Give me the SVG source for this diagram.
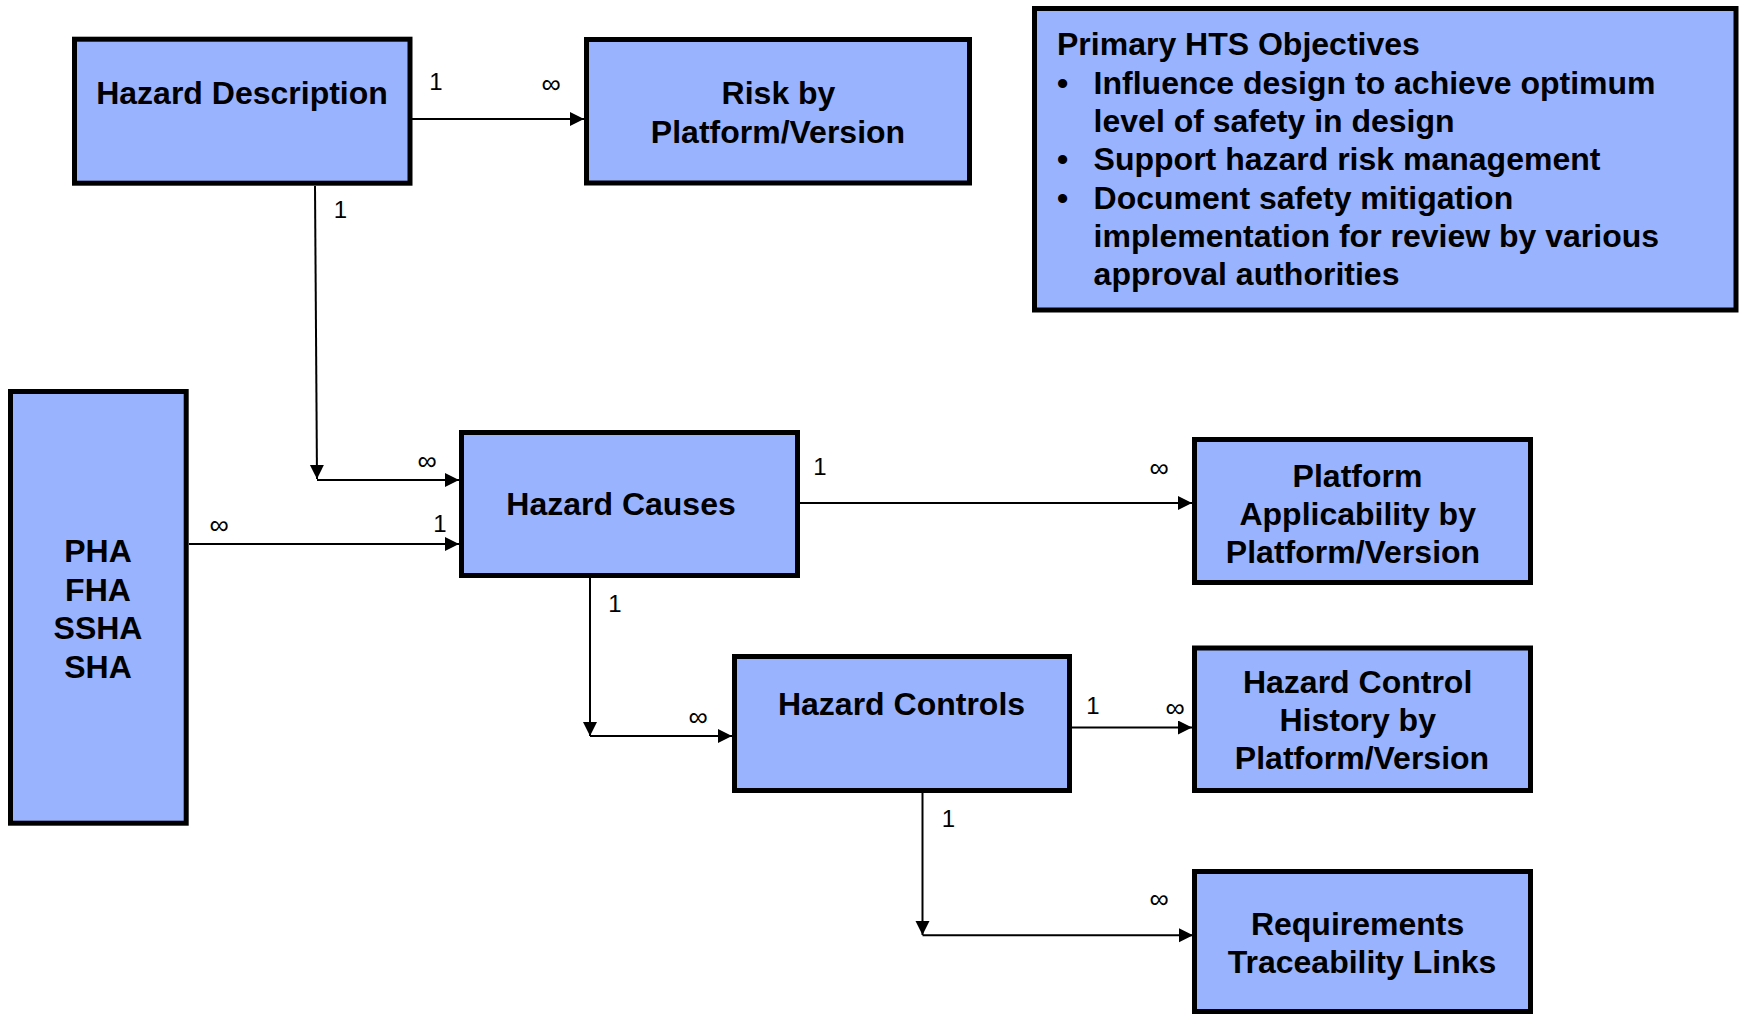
<svg xmlns="http://www.w3.org/2000/svg" width="1741" height="1017" viewBox="0 0 1741 1017">
<style>
.box{fill:#99B3FF;stroke:#000;stroke-width:5}
.t{font-family:"Liberation Sans",Arial,sans-serif;font-weight:bold;font-size:32px;fill:#000;text-anchor:middle}
.tl{font-family:"Liberation Sans",Arial,sans-serif;font-weight:bold;font-size:32px;fill:#000}
.c{fill:none;stroke:#000;stroke-width:2;marker-end:url(#arr)}
.lb{font-family:"Liberation Sans",Arial,sans-serif;font-size:24px;fill:#000;text-anchor:middle}
.inf{font-family:"Liberation Sans",Arial,sans-serif;font-size:27px;fill:#000;text-anchor:middle}
</style>
<defs>
<marker id="arr" markerUnits="userSpaceOnUse" markerWidth="15" markerHeight="15" refX="14" refY="7" orient="auto">
<path d="M0,0 L14,7 L0,14 Z" fill="#000"/>
</marker>
</defs>
<rect width="1741" height="1017" fill="#fff"/>
<g id="connectors">
<line class="c" x1="412" y1="119" x2="584" y2="119"/>
<line class="c" x1="315" y1="186" x2="317" y2="479"/>
<line class="c" x1="317" y1="480" x2="459" y2="480"/>
<line class="c" x1="189" y1="544" x2="459" y2="544"/>
<line class="c" x1="797" y1="503" x2="1192" y2="503"/>
<line class="c" x1="590" y1="578" x2="590" y2="736"/>
<line class="c" x1="590" y1="736" x2="732" y2="736"/>
<line class="c" x1="1069" y1="727.5" x2="1192" y2="727.5"/>
<line class="c" x1="922.5" y1="793" x2="922.5" y2="935"/>
<line class="c" x1="922.5" y1="935.3" x2="1193" y2="935.3"/>
<text class="lb" x="436" y="90">1</text>
<text class="inf" x="551" y="92.5">∞</text>
<text class="lb" x="340.5" y="218">1</text>
<text class="inf" x="427" y="469.5">∞</text>
<text class="inf" x="219" y="533.5">∞</text>
<text class="lb" x="440" y="532">1</text>
<text class="lb" x="820" y="475">1</text>
<text class="inf" x="1159" y="476.5">∞</text>
<text class="lb" x="615" y="612">1</text>
<text class="inf" x="698" y="725.5">∞</text>
<text class="lb" x="1093" y="714">1</text>
<text class="inf" x="1175" y="716.5">∞</text>
<text class="lb" x="948.5" y="827">1</text>
<text class="inf" x="1159" y="908">∞</text>
</g>
<g id="hazard-description">
<rect class="box" x="74.5" y="39.2" width="335.5" height="144"/>
<text class="t" x="242" y="104">Hazard Description</text>
</g>
<g id="risk">
<rect class="box" x="586.5" y="39.5" width="383" height="143.5"/>
<text class="t" x="778.5" y="104">Risk by</text>
<text class="t" x="778" y="143">Platform/Version</text>
</g>
<g id="objectives">
<rect class="box" x="1034.5" y="8.5" width="701.5" height="301.5"/>
<text class="tl" x="1057" y="55">Primary HTS Objectives</text>
<text class="tl" x="1057" y="94">•</text>
<text class="tl" x="1093.6" y="94">Influence design to achieve optimum</text>
<text class="tl" x="1093.6" y="132">level of safety in design</text>
<text class="tl" x="1057" y="170">•</text>
<text class="tl" x="1093.6" y="170">Support hazard risk management</text>
<text class="tl" x="1057" y="208.5">•</text>
<text class="tl" x="1093.6" y="208.5">Document safety mitigation</text>
<text class="tl" x="1093.6" y="246.5">implementation for review by various</text>
<text class="tl" x="1093.6" y="285">approval authorities</text>
</g>
<g id="pha">
<rect class="box" x="10.5" y="391.5" width="175.7" height="431.7"/>
<text class="t" x="98" y="562">PHA</text>
<text class="t" x="98" y="600.5">FHA</text>
<text class="t" x="98" y="639">SSHA</text>
<text class="t" x="98" y="677.5">SHA</text>
</g>
<g id="hazard-causes">
<rect class="box" x="461.5" y="432.5" width="336" height="143"/>
<text class="t" x="621" y="515">Hazard Causes</text>
</g>
<g id="platform-applicability">
<rect class="box" x="1194.5" y="439.5" width="336" height="143"/>
<text class="t" x="1357.5" y="486.5">Platform</text>
<text class="t" x="1357.7" y="524.5">Applicability by</text>
<text class="t" x="1353" y="562.5">Platform/Version</text>
</g>
<g id="hazard-controls">
<rect class="box" x="734.5" y="656.5" width="335" height="134"/>
<text class="t" x="901.5" y="715">Hazard Controls</text>
</g>
<g id="control-history">
<rect class="box" x="1194.5" y="648" width="336" height="142.5"/>
<text class="t" x="1357.6" y="692.5">Hazard Control</text>
<text class="t" x="1357.7" y="730.5">History by</text>
<text class="t" x="1362" y="768.5">Platform/Version</text>
</g>
<g id="requirements">
<rect class="box" x="1194.5" y="871.5" width="336" height="140"/>
<text class="t" x="1357.6" y="935">Requirements</text>
<text class="t" x="1362" y="972.5">Traceability Links</text>
</g>
</svg>
